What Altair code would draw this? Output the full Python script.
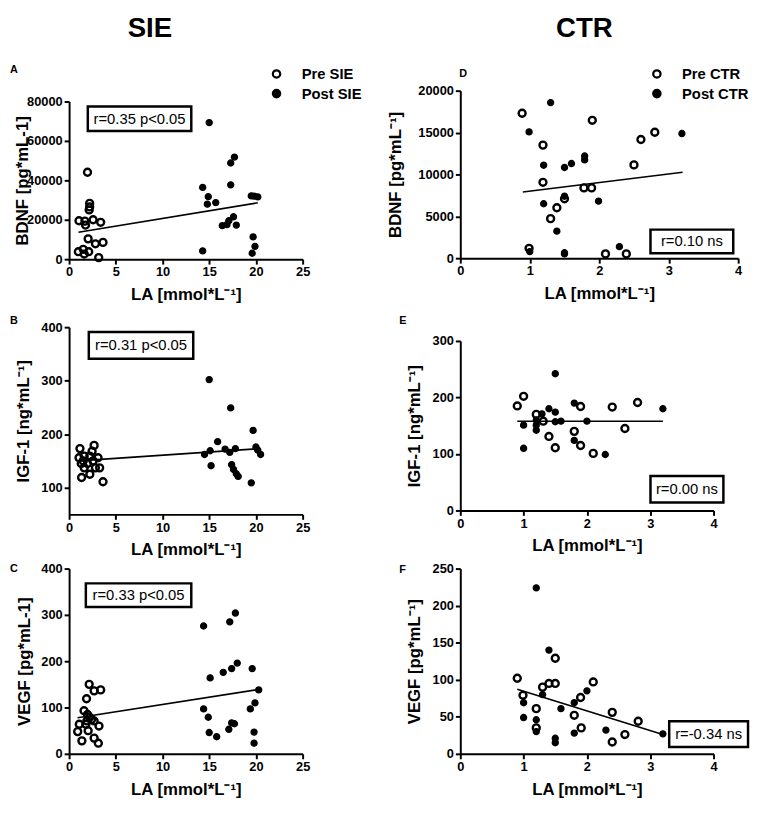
import altair as alt
import pandas as pd

FONT = "Liberation Sans"
X_TITLE = "LA [mmol*L⁻¹]"

# ---------------- Panel A : BDNF (SIE) ----------------
A_pre_x = [1.97, 2.2, 2.2, 2.15, 1.06, 1.69, 1.76, 2.57, 3.38, 2.04, 2.82, 3.63, 0.99, 1.51, 2.1, 1.62, 3.17]
A_pre_y = [44100, 28300, 26500, 25000, 19500, 19300, 17300, 20000, 18700, 10300, 7800, 8500, 3800, 5000, 3800, 2600, 800]
A_post_x = [15.0, 17.7, 17.3, 17.3, 14.3, 14.9, 14.8, 15.7, 19.5, 19.8, 20.2, 17.6, 17.1, 16.9, 16.4, 17.9, 14.3, 19.7, 19.9, 19.6]
A_post_y = [69300, 51800, 48800, 37700, 36400, 31700, 27900, 28700, 32100, 32000, 31600, 21500, 19500, 17500, 17000, 17300, 4200, 11300, 6500, 3000]
A_fit_x = [1.0, 20.2]
A_fit_y = [13700, 28600]

# ---------------- Panel B : IGF-1 (SIE) ----------------
B_pre_x = [1.16, 2.68, 2.46, 1.06, 1.62, 2.22, 3.1, 1.51, 1.97, 2.57, 3.27, 2.82, 1.62, 1.34, 2.22, 3.63, 1.3]
B_pre_y = [173, 179, 168, 156, 159, 159, 156, 150, 145, 150, 137, 137, 137, 119, 125, 111, 145]
B_post_x = [15.0, 17.3, 19.7, 15.9, 14.5, 15.1, 15.2, 16.7, 17.2, 17.8, 17.4, 17.6, 17.9, 18.1, 19.5, 20.0, 20.2, 20.5]
B_post_y = [302, 249, 207, 186, 162, 169, 141, 172, 166, 173, 143, 134, 126, 121, 109, 176, 170, 162]
B_fit_x = [1.0, 20.4]
B_fit_y = [150, 173]

# ---------------- Panel C : VEGF (SIE) ----------------
C_pre_x = [2.15, 2.68, 3.38, 1.87, 1.6, 1.97, 2.2, 1.09, 1.8, 3.2, 0.92, 2.04, 2.68, 1.37, 2.68, 3.13, 2.4, 1.9]
C_pre_y = [150, 136, 138, 119, 93, 85, 79, 64, 64, 60, 48, 50, 71, 28, 34, 23, 74, 71]
C_post_x = [14.4, 17.2, 17.8, 18.0, 17.4, 16.5, 15.1, 19.6, 14.4, 14.9, 15.0, 15.8, 17.1, 17.4, 17.7, 19.4, 19.9, 20.3, 19.8, 19.8]
C_post_y = [276, 285, 304, 196, 184, 176, 164, 184, 97, 79, 46, 37, 53, 67, 65, 97, 110, 138, 47, 23]
C_fit_x = [0.9, 20.3]
C_fit_y = [78, 139]

# ---------------- Panel D : BDNF (CTR) ----------------
D_pre_x = [0.89, 1.19, 1.19, 1.3, 1.39, 1.5, 1.78, 1.89, 1.9, 0.99, 2.09, 2.39, 2.5, 2.6, 2.8]
D_pre_y = [17300, 13500, 9060, 4720, 6020, 7090, 8390, 8390, 16460, 1180, 510, 510, 11140, 14170, 15040]
D_post_x = [0.99, 1.3, 1.2, 1.2, 1.39, 1.5, 1.6, 1.79, 1.79, 1.99, 1.0, 1.5, 1.5, 2.29, 3.19, 1.5]
D_post_y = [15080, 18580, 11100, 6500, 3230, 10830, 11300, 12200, 11730, 6810, 790, 510, 650, 1380, 14880, 7400]
D_fit_x = [0.9, 3.2]
D_fit_y = [7900, 10250]

# ---------------- Panel E : IGF-1 (CTR) ----------------
E_pre_x = [0.9, 1.0, 1.2, 1.31, 1.4, 1.5, 1.8, 1.9, 1.9, 2.1, 2.4, 2.6, 2.8]
E_pre_y = [185, 202, 170, 158, 131, 111, 140, 184, 115, 101, 183, 145, 191]
E_post_x = [1.5, 1.0, 1.0, 1.2, 1.2, 1.29, 1.4, 1.5, 1.5, 1.59, 1.8, 1.8, 2.0, 2.29, 3.2, 1.2]
E_post_y = [242, 151, 110, 142, 151, 171, 180, 174, 157, 158, 190, 124, 158, 99, 180, 160]
E_fit_x = [0.9, 3.2]
E_fit_y = [158, 158]

# ---------------- Panel F : VEGF (CTR) ----------------
F_pre_x = [0.9, 0.99, 1.2, 1.2, 1.3, 1.4, 1.5, 1.5, 1.8, 1.9, 1.91, 2.1, 2.4, 2.4, 2.6, 2.81]
F_pre_y = [102, 79, 61, 35, 90, 95, 95, 129, 52, 76, 35, 97, 56, 16, 26, 44]
F_post_x = [1.2, 1.4, 1.0, 1.0, 1.2, 1.2, 1.3, 1.5, 1.5, 1.59, 1.8, 1.8, 2.0, 2.3, 3.2]
F_post_y = [224, 140, 69, 49, 46, 30, 80, 21, 15, 61, 69, 28, 85, 32, 27]
F_fit_x = [0.9, 3.2]
F_fit_y = [87, 26]

SIE_GROUPS = ["Pre SIE", "Post SIE"]
CTR_GROUPS = ["Pre CTR", "Post CTR"]


def panel(pre_x, pre_y, post_x, post_y, fit_x, fit_y, groups, x_dom, x_ticks,
          y_dom, y_ticks, w, h, y_title, y_title_x, letter, letter_xy, note,
          note_box, legend_xy=None, header=None, header_xy=None):
    pre = pd.DataFrame({"LA": pre_x, "v": pre_y, "g": [groups[0]] * len(pre_x)})
    post = pd.DataFrame({"LA": post_x, "v": post_y, "g": [groups[1]] * len(post_x)})
    fit = pd.DataFrame({"LA": fit_x, "v": fit_y})
    xenc = alt.X("LA:Q", scale=alt.Scale(domain=x_dom, nice=False, zero=False),
                 axis=alt.Axis(values=x_ticks, title=X_TITLE, titleY=28,
                               format="d"))
    yenc = alt.Y("v:Q", scale=alt.Scale(domain=y_dom, nice=False, zero=False),
                 axis=alt.Axis(values=y_ticks, title=y_title, titleX=y_title_x,
                               titleY=h / 2, format="d"))
    if legend_xy is not None:
        leg = alt.Legend(title=None, orient="none", legendX=legend_xy[0],
                         legendY=legend_xy[1])
    else:
        leg = None
    fill = alt.Fill("g:N", scale=alt.Scale(domain=groups,
                                           range=["rgba(0,0,0,0)", "black"]),
                    legend=leg)
    line = alt.Chart(fit).mark_line(color="black", strokeWidth=1.6).encode(
        x=xenc, y=yenc)
    post_pts = alt.Chart(post).mark_point(filled=True, stroke="black", size=38,
                                          strokeWidth=1.3, opacity=1).encode(
        x=xenc, y=yenc, fill=fill)
    pre_pts = alt.Chart(pre).mark_point(filled=True, stroke="black", size=50,
                                        strokeWidth=2.4, opacity=1).encode(
        x=xenc, y=yenc, fill=fill)
    one = alt.Chart(pd.DataFrame({"k": [0]}))
    x0, x1, y0, y1 = note_box
    rect = one.mark_rect(fill="white", stroke="black", strokeWidth=2.5).encode(
        x=alt.value(x0), x2=alt.value(x1), y=alt.value(y0), y2=alt.value(y1))
    note_t = one.mark_text(text=note, font=FONT, fontSize=15, align="center",
                           baseline="middle", color="black").encode(
        x=alt.value((x0 + x1) / 2), y=alt.value((y0 + y1) / 2))
    letter_t = one.mark_text(text=letter, font=FONT, fontSize=11,
                             fontWeight="bold", align="left",
                             baseline="middle", color="black").encode(
        x=alt.value(letter_xy[0]), y=alt.value(letter_xy[1]))
    layers = [line, post_pts, pre_pts, rect, note_t, letter_t]
    if header is not None:
        layers.append(one.mark_text(text=header, font=FONT, fontSize=28,
                                    fontWeight="bold", align="center",
                                    baseline="middle", color="black").encode(
            x=alt.value(header_xy[0]), y=alt.value(header_xy[1])))
    return alt.layer(*layers).properties(width=w, height=h)


def spacer(h):
    return alt.Chart(pd.DataFrame({"k": [0]})).mark_point(opacity=0).encode(
        x=alt.value(0), y=alt.value(0)).properties(width=5, height=h)


A = panel(A_pre_x, A_pre_y, A_post_x, A_post_y, A_fit_x, A_fit_y, SIE_GROUPS,
          [0, 25], [0, 5, 10, 15, 20, 25], [0, 80000],
          [0, 20000, 40000, 60000, 80000], 237, 160, "BDNF [pg*mL-1]", -38.5,
          "A", (-60, -31.5), "r=0.35 p<0.05", (19, 124, 5, 30),
          legend_xy=(203, -35.5), header="SIE", header_xy=(82, -73.5))
B = panel(B_pre_x, B_pre_y, B_post_x, B_post_y, B_fit_x, B_fit_y, SIE_GROUPS,
          [0, 25], [0, 5, 10, 15, 20, 25], [50, 400], [100, 200, 300, 400],
          237, 190, "IGF-1 [ng*mL⁻¹]", -37.5, "B", (-60, -6.5),
          "r=0.31 p<0.05", (20, 126, 5, 32))
C = panel(C_pre_x, C_pre_y, C_post_x, C_post_y, C_fit_x, C_fit_y, SIE_GROUPS,
          [0, 25], [0, 5, 10, 15, 20, 25], [0, 400], [0, 100, 200, 300, 400],
          237, 188, "VEGF [pg*mL-1]", -36.5, "C", (-60, 0.5),
          "r=0.33 p<0.05", (17, 124, 15, 39))
D = panel(D_pre_x, D_pre_y, D_post_x, D_post_y, D_fit_x, D_fit_y, CTR_GROUPS,
          [0, 4], [0, 1, 2, 3, 4], [0, 20000], [0, 5000, 10000, 15000, 20000],
          282, 170, "BDNF [pg*mL⁻¹]", -57, "D", (-1, -17),
          "r=0.10 ns", (193, 277, 141, 165),
          legend_xy=(192, -24.5), header="CTR", header_xy=(126, -62.5))
E = panel(E_pre_x, E_pre_y, E_post_x, E_post_y, E_fit_x, E_fit_y, CTR_GROUPS,
          [0, 4], [0, 1, 2, 3, 4], [0, 300], [0, 100, 200, 300],
          257, 172, "IGF-1 [ng*mL⁻¹]", -37, "E", (-62, -20),
          "r=0.00 ns", (193, 267, 137, 164))
F = panel(F_pre_x, F_pre_y, F_post_x, F_post_y, F_fit_x, F_fit_y, CTR_GROUPS,
          [0, 4], [0, 1, 2, 3, 4], [0, 250], [0, 50, 100, 150, 200, 250],
          257, 188, "VEGF [pg*mL⁻¹]", -37, "F", (-62, 1.5),
          "r=-0.34 ns", (212, 292, 155, 181))

left = alt.vconcat(spacer(11), A, spacer(69), B, spacer(55), C, spacing=0,
                   bounds="flush").resolve_scale(fill="independent").resolve_legend(
    fill="independent")
right = alt.vconcat(D, spacer(84), E, spacer(59), F, spacing=0,
                    bounds="flush").resolve_scale(fill="independent").resolve_legend(
    fill="independent")

chart = alt.hconcat(left, right, spacing=24).resolve_scale(
    fill="independent").resolve_legend(fill="independent").properties(
    padding={"left": 2, "top": 1, "right": 0, "bottom": 0}
).configure_view(strokeWidth=0).configure_axis(
    domainColor="black", domainWidth=2, tickColor="black", tickWidth=2,
    tickSize=5, labelFont=FONT, labelFontSize=13, labelFontWeight="bold",
    labelColor="black", labelPadding=2, labelFlush=False, labelOverlap=False,
    titleFont=FONT, titleFontSize=17, titleFontWeight="bold",
    titleColor="black", grid=False
).configure_legend(
    labelFont=FONT, labelFontSize=15, labelFontWeight="bold",
    labelColor="black", symbolStrokeColor="black", symbolStrokeWidth=2.3,
    symbolSize=55, symbolType="circle", rowPadding=3, labelOffset=18
)

chart.save("out.html", embed_options={"renderer": "svg", "actions": False})
